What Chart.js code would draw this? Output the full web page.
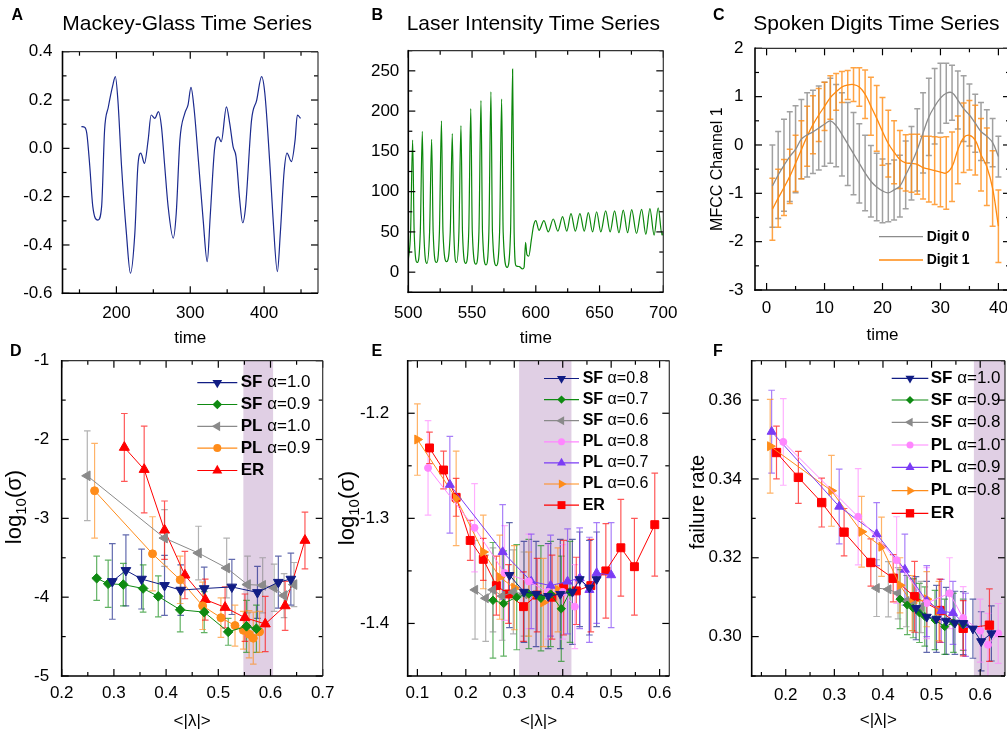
<!DOCTYPE html>
<html><head><meta charset="utf-8"><title>Reservoir panels</title>
<script src="https://cdn.jsdelivr.net/npm/chart.js@4.4.1/dist/chart.umd.min.js"></script>
<style>
html,body{margin:0;padding:0;background:#fff;}
body{width:1007px;height:734px;overflow:hidden;position:relative;font-family:"Liberation Sans",Arial,Helvetica,sans-serif;color:#000;}
canvas{position:absolute;left:0;top:0;}
.pl{position:absolute;font-weight:bold;font-size:16px;line-height:16px;white-space:nowrap;}
.tt{position:absolute;font-size:21px;line-height:21px;white-space:nowrap;}
</style></head><body>
<canvas id="cA" width="1030" height="734"></canvas>
<canvas id="cB" width="1030" height="734"></canvas>
<canvas id="cC" width="1030" height="734"></canvas>
<canvas id="cD" width="1030" height="734"></canvas>
<canvas id="cE" width="1030" height="734"></canvas>
<canvas id="cF" width="1030" height="734"></canvas>
<div class="pl" style="left:11.5px;top:7.2px">A</div>
<div class="pl" style="left:371.5px;top:7.2px">B</div>
<div class="pl" style="left:713px;top:7.2px">C</div>
<div class="pl" style="left:10px;top:343.2px">D</div>
<div class="pl" style="left:371.5px;top:343.2px">E</div>
<div class="pl" style="left:713px;top:343.2px">F</div>
<div class="tt" style="left:62.3px;top:11.5px">Mackey-Glass Time Series</div>
<div class="tt" style="left:406.7px;top:11.5px">Laser Intensity Time Series</div>
<div class="tt" style="left:753.3px;top:11.5px">Spoken Digits Time Series</div>
<script>
const FONT = '"Liberation Sans", Arial, Helvetica, sans-serif';
Chart.defaults.font.family = FONT;
Chart.defaults.font.size = 17;
Chart.defaults.color = '#000';
const CW = 1030, CH = 734;

// ---------------- Panel A: Mackey-Glass ----------------
const A_time = [152.6,157,160,164,168,175,180,184,189,195,198.6,202,207,213.5,219,225,229,233,238,243,247,252,257,261,265.5,270,277,281,286,292.6,297,301,305,311,317.5,323,327,333,338,342,349,353.6,358,362,367,371,375,383,390,396.6,401,408,412,418,422,427,431,437,442,445,449.4];
const A_val = [0.09,0.087,0.06,-0.076,-0.24,-0.297,-0.24,0.076,0.17,0.26,0.297,0.2,-0.076,-0.35,-0.517,-0.35,-0.076,-0.02,-0.062,0.035,0.138,0.124,0.152,0.09,-0.076,-0.24,-0.372,-0.27,0.035,0.145,0.18,0.252,0.17,-0.048,-0.297,-0.469,-0.283,0.0,0.048,0.028,0.172,0.1,0.007,-0.034,-0.214,-0.308,-0.24,0.117,0.2,0.297,0.228,-0.076,-0.283,-0.51,-0.35,-0.1,-0.02,-0.055,0.035,0.138,0.124];
const A_xTicks = [200,300,400];
const A_yTicks = [-0.6,-0.4,-0.2,0,0.2,0.4];

// ---------------- Panel B: Laser ----------------
const B_time = [500,501.8,503.4,504.6,507.0,509.4,511.0,512.2,514.6,516.7,518.3,519.5,522.0,524.4,526.0,527.2,530.0,532.9,534.5,535.7,537.8,539.7,541.3,542.5,545.0,547.4,549.0,550.2,553.0,555.4,557.0,558.2,561.0,563.2,564.8,566.0,569.0,571.6,573.2,574.4,577.5,580.2,581.8,583.0,584.5,587.0,589.5,590.8,592.0,593.0,594.5,596.5,598.3,600.0,602.5,606.4,609.8,613.7,617.3,621.0,624.3,627.6,631.0,634.6,638.0,641.2,644.5,647.7,651.0,654.8,658.3,661.8,665.2,668.6,672.0,675.2,679.0,683.0,686.3,689.5,692.8,696.0,699.0,700.0];
const B_val = [15,50,164,50,12,50,175,50,11,50,165,50,12,50,188,50,13,50,172,50,12,50,182,50,11,50,203,50,10,50,213,50,9,50,224,50,8,50,215,50,6,50,252,50,8,7,4,6,37,22,20,40,58,64,52,64,50,66,51,69,51,72.7,51,72.7,51,74,50,75,50,76,50,76,49,77,49,77.7,48,78,47,79,46,80,46,50];
const B_xTicks = [500,550,600,650,700];
const B_yTicks = [0,50,100,150,200,250];

// ---------------- Panel C: Spoken digits ----------------
const C_t = [1,2,3,4,5,6,7,8,9,10,11,12,13,14,15,16,17,18,19,20,21,22,23,24,25,26,27,28,29,30,31,32,33,34,35,36,37,38,39,40];
const C_d0 = [-0.85,-0.62,-0.42,-0.24,-0.09,0.12,0.21,0.27,0.35,0.43,0.5,0.4,0.22,0.02,-0.18,-0.38,-0.58,-0.75,-0.87,-0.95,-0.99,-0.93,-0.85,-0.62,-0.38,-0.1,0.25,0.58,0.8,0.97,1.07,1.08,0.93,0.75,0.62,0.45,0.28,0.18,0.05,-0.24];
const C_d0err = [0.85,0.9,0.95,0.93,0.9,0.82,0.87,0.86,0.87,0.87,0.88,0.85,0.86,0.86,0.85,0.82,0.78,0.74,0.7,0.66,0.6,0.62,0.64,0.7,0.76,0.85,0.83,0.8,0.78,0.72,0.62,0.57,0.6,0.68,0.64,0.6,0.6,0.55,0.5,0.42];
const C_d1 = [-1.33,-1.1,-0.88,-0.65,-0.38,-0.1,0.18,0.42,0.62,0.8,0.98,1.1,1.2,1.24,1.25,1.2,1.05,0.8,0.55,0.28,0.03,-0.15,-0.3,-0.37,-0.38,-0.4,-0.47,-0.5,-0.53,-0.56,-0.58,-0.45,-0.1,0.15,0.2,0.1,-0.2,-0.45,-0.9,-1.68];
const C_d1err = [0.64,0.6,0.58,0.56,0.58,0.6,0.62,0.6,0.55,0.5,0.45,0.38,0.32,0.3,0.35,0.4,0.5,0.6,0.68,0.7,0.69,0.65,0.6,0.58,0.6,0.62,0.65,0.68,0.7,0.72,0.75,0.72,0.7,0.72,0.72,0.72,0.75,0.8,0.78,0.75];
const C_xTicks = [0,10,20,30,40];
const C_yTicks = [-3,-2,-1,0,1,2];

// ---------------- Panel D ----------------
const D_SF10_x = [0.297,0.323,0.353,0.397,0.428,0.473,0.526,0.575,0.615,0.639];
const D_SF10_y = [-3.8,-3.66,-3.77,-3.85,-3.91,-3.89,-3.87,-3.94,-3.81,-3.77];
const D_SF10_e = [0.48,0.45,0.38,0.38,0.32,0.27,0.35,0.33,0.33,0.33];
const D_SF09_x = [0.267,0.289,0.318,0.356,0.385,0.427,0.473,0.519,0.554,0.573];
const D_SF09_y = [-3.76,-3.83,-3.84,-3.89,-3.99,-4.16,-4.19,-4.44,-4.37,-4.4];
const D_SF09_e = [0.28,0.3,0.27,0.3,0.26,0.28,0.26,0.17,0.33,0.3];
const D_PL10_x = [0.249,0.397,0.462,0.516,0.556,0.585,0.607,0.626,0.645];
const D_PL10_y = [-2.46,-3.25,-3.44,-3.63,-3.84,-3.85,-3.88,-3.98,-3.84];
const D_PL10_e = [0.57,0.36,0.34,0.38,0.36,0.35,0.3,0.28,0.28];
const D_PL09_x = [0.263,0.374,0.427,0.47,0.505,0.532,0.548,0.559,0.567,0.579];
const D_PL09_y = [-2.65,-3.45,-3.78,-4.11,-4.26,-4.36,-4.42,-4.47,-4.52,-4.44];
const D_PL09_e = [0.6,0.47,0.3,0.3,0.25,0.26,0.24,0.3,0.33,0.26];
const D_ER_x = [0.32,0.358,0.397,0.436,0.475,0.513,0.551,0.59,0.628,0.666];
const D_ER_y = [-2.1,-2.38,-3.15,-3.72,-4.03,-4.13,-4.26,-4.34,-4.11,-3.28];
const D_ER_e = [0.43,0.55,0.37,0.3,0.26,0.26,0.3,0.35,0.31,0.36];
const D_xTicks = [0.2,0.3,0.4,0.5,0.6,0.7];
const D_yTicks = [-5,-4,-3,-2,-1];

// ---------------- Panel E ----------------
const E_SF08_x = [0.29,0.32,0.345,0.37,0.395,0.42,0.435,0.455,0.47];
const E_SF08_y = [-1.354,-1.37,-1.372,-1.374,-1.372,-1.37,-1.358,-1.366,-1.358];
const E_SF08_e = [0.05,0.048,0.05,0.05,0.052,0.05,0.045,0.045,0.045];
const E_SF07_x = [0.256,0.278,0.305,0.33,0.355,0.375,0.397,0.415];
const E_SF07_y = [-1.378,-1.381,-1.375,-1.372,-1.376,-1.372,-1.386,-1.37];
const E_SF07_e = [0.055,0.05,0.05,0.052,0.05,0.05,0.05,0.048];
const E_SF06_x = [0.219,0.241,0.256,0.275,0.298,0.32];
const E_SF06_y = [-1.368,-1.376,-1.368,-1.374,-1.37,-1.372];
const E_SF06_e = [0.047,0.041,0.04,0.042,0.04,0.04];
const E_PL08_x = [0.122,0.218,0.28,0.33,0.37,0.4,0.425];
const E_PL08_y = [-1.252,-1.309,-1.352,-1.36,-1.37,-1.37,-1.384];
const E_PL08_e = [0.045,0.042,0.045,0.045,0.045,0.045,0.04];
const E_PL07_x = [0.167,0.276,0.335,0.375,0.41,0.435,0.455,0.47,0.5];
const E_PL07_y = [-1.268,-1.332,-1.36,-1.364,-1.36,-1.357,-1.368,-1.352,-1.354];
const E_PL07_e = [0.046,0.045,0.045,0.048,0.05,0.048,0.05,0.048,0.05];
const E_PL06_x = [0.1,0.18,0.236,0.27,0.3,0.33,0.36,0.39];
const E_PL06_y = [-1.225,-1.281,-1.332,-1.356,-1.366,-1.372,-1.38,-1.368];
const E_PL06_e = [0.034,0.045,0.035,0.04,0.04,0.04,0.042,0.04];
const E_ER_x = [0.125,0.154,0.18,0.209,0.236,0.263,0.288,0.319,0.347,0.378,0.402,0.428,0.458,0.489,0.52,0.548,0.59];
const E_ER_y = [-1.233,-1.254,-1.28,-1.321,-1.339,-1.364,-1.372,-1.384,-1.373,-1.375,-1.366,-1.369,-1.364,-1.35,-1.328,-1.346,-1.306];
const E_ER_e = [0.015,0.018,0.018,0.019,0.02,0.028,0.028,0.033,0.035,0.04,0.045,0.032,0.044,0.045,0.046,0.046,0.049];
const E_xTicks = [0.1,0.2,0.3,0.4,0.5,0.6];
const E_yTicks = [-1.4,-1.3,-1.2];

// ---------------- Panel F ----------------
const F_SF10_x = [0.468,0.49,0.51,0.53,0.548,0.565,0.585,0.602,0.623];
const F_SF10_y = [0.3072,0.305,0.3045,0.304,0.3035,0.3034,0.302,0.2988,0.3008];
const F_SF10_e = [0.008,0.009,0.0085,0.0085,0.008,0.008,0.0075,0.0075,0.007];
const F_SF09_x = [0.435,0.45,0.462,0.475,0.486,0.507,0.527,0.545,0.565];
const F_SF09_y = [0.3095,0.308,0.3072,0.306,0.3051,0.3042,0.3025,0.3035,0.303];
const F_SF09_e = [0.0075,0.0075,0.0075,0.0075,0.0075,0.0075,0.007,0.0075,0.0065];
const F_SF08_x = [0.387,0.411,0.431,0.448,0.462,0.478];
const F_SF08_y = [0.3123,0.312,0.311,0.309,0.308,0.3075];
const F_SF08_e = [0.0072,0.007,0.0065,0.0065,0.0065,0.0065];
const F_PL10_x = [0.195,0.349,0.428,0.49,0.537,0.565,0.6,0.616,0.637];
const F_PL10_y = [0.3494,0.3304,0.3194,0.3085,0.311,0.3047,0.3015,0.2979,0.3008];
const F_PL10_e = [0.011,0.0122,0.011,0.009,0.009,0.008,0.008,0.008,0.0076];
const F_PL09_x = [0.171,0.31,0.387,0.445,0.49,0.52,0.544,0.57];
const F_PL09_y = [0.352,0.333,0.326,0.317,0.309,0.3065,0.306,0.303];
const F_PL09_e = [0.0105,0.0095,0.008,0.009,0.009,0.008,0.008,0.008];
const F_PL08_x = [0.168,0.294,0.356,0.397,0.435,0.46,0.49,0.515];
const F_PL08_y = [0.3483,0.337,0.3266,0.3228,0.313,0.3085,0.3095,0.3065];
const F_PL08_e = [0.0119,0.009,0.009,0.0075,0.007,0.007,0.007,0.0075];
const F_ER_x = [0.181,0.226,0.274,0.32,0.375,0.421,0.465,0.517,0.565,0.619];
const F_ER_y = [0.3467,0.3404,0.334,0.3265,0.3188,0.3148,0.3101,0.3066,0.3021,0.3029];
const F_ER_e = [0.0067,0.0066,0.0062,0.006,0.006,0.006,0.009,0.008,0.007,0.0092];
const F_xTicks = [0.2,0.3,0.4,0.5,0.6];
const F_yTicks = [0.30,0.32,0.34,0.36];

// ---------------- styling helpers ----------------
const NAVY = '#111d84', GREEN = '#0f8a12', GRAY = '#8a8a8a', ORANGE = '#ff8c1a', RED = '#ff0000', PINK = '#ff86ff', PURPLE = '#7b3cf5';
function pts(xs, ys) { return xs.map((x, i) => ({ x: x, y: ys[i] })); }
function lineSet(label, xs, ys, color, extra) {
  return Object.assign({ label: label, data: pts(xs, ys), borderColor: color, backgroundColor: color,
    borderWidth: 1.3, pointRadius: 0, pointHoverRadius: 0, fill: false }, extra || {});
}
function markSet(label, xs, ys, es, color, style, rot, r) {
  return { label: label, data: pts(xs, ys), errs: es, errColor: color + 'a8',
    borderColor: color, backgroundColor: color, pointBackgroundColor: color, pointBorderColor: color,
    pointBorderWidth: 1, pointStyle: style, pointRotation: rot, pointRadius: r, pointHoverRadius: r,
    borderWidth: 1, tension: 0, fill: false };
}
function fmt(v, d) { const s = Number(v).toFixed(d); return /^-0(\.0+)?$/.test(s) ? s.slice(1) : s; }

function marker(ctx, style, rot, r, x, y) {
  ctx.save(); ctx.translate(x, y); ctx.rotate((rot || 0) * Math.PI / 180); ctx.beginPath();
  if (style === 'triangle') {
    for (let k = 0; k < 3; k++) { const a = k * 2 * Math.PI / 3; const px = Math.sin(a) * r, py = -Math.cos(a) * r; if (k) ctx.lineTo(px, py); else ctx.moveTo(px, py); }
    ctx.closePath();
  } else if (style === 'rectRot') {
    ctx.moveTo(0, -r); ctx.lineTo(r, 0); ctx.lineTo(0, r); ctx.lineTo(-r, 0); ctx.closePath();
  } else if (style === 'rect') {
    const s = r * Math.SQRT1_2; ctx.rect(-s, -s, 2 * s, 2 * s);
  } else { ctx.arc(0, 0, r, 0, 2 * Math.PI); }
  ctx.fill(); ctx.restore();
}

const LOG_SIGMA = [{ text: 'log', size: 22, dy: 0 }, { text: '10', size: 15, dy: 5 }, { text: '(σ)', size: 22, dy: 0 }];

// ---------------- panels ----------------
const PANELS = {
  cA: { area: { l: 62.5, r: 318, t: 51.7, b: 293.3 }, yW: 60, xH: 55.2,
    x: { min: 127, max: 473, ticks: A_xTicks, minor: 50, dec: 0, pad: 10, title: 'time', tfs: 17 },
    y: { min: -0.6, max: 0.4, ticks: A_yTicks, minor: 0.1, dec: 1, pad: 10 },
    datasets: [lineSet('Mackey-Glass', A_time, A_val, '#1b2a8e', { cubicInterpolationMode: 'monotone', borderWidth: 1.2 })] },
  cB: { area: { l: 408.3, r: 663.3, t: 50.7, b: 292.3 }, yW: 60, xH: 56.2,
    x: { min: 500, max: 700, ticks: B_xTicks, minor: 25, dec: 0, pad: 10.5, title: 'time', tfs: 17 },
    y: { min: -25, max: 275, ticks: B_yTicks, minor: 25, dec: 0, pad: 9 },
    datasets: [lineSet('Laser', B_time, B_val, '#0b870b', { cubicInterpolationMode: 'monotone', borderWidth: 1.2 })] },
  cC: { area: { l: 755, r: 1010, t: 48.3, b: 290 }, yW: 47.1, xH: 55.2,
    x: { min: -2, max: 42, ticks: C_xTicks, minor: 5, dec: 0, pad: 8, title: 'time', tfs: 17 },
    y: { min: -3, max: 2, ticks: C_yTicks, minor: 0.5, dec: 0, pad: 11.5, title: 'MFCC Channel 1', tfs: 16 },
    errWidth: 1.5, cap: 3,
    legend: { x0: 879, x1: 923, tx: 926.7, ys: [236.7, 260], size: 14, allBold: true, lw: 1.3 },
    datasets: [
      Object.assign(lineSet('Digit 0', C_t, C_d0, '#8c8c8c', { tension: 0.4 }), { errs: C_d0err, errColor: 'rgba(130,130,130,0.75)' }),
      Object.assign(lineSet('Digit 1', C_t, C_d1, '#ff8a10', { tension: 0.4 }), { errs: C_d1err, errColor: 'rgba(255,140,20,0.8)' })
    ] },
  cD: { area: { l: 61.7, r: 322.7, t: 360.7, b: 676 }, yW: 58.9, xH: 55.9,
    x: { min: 0.2, max: 0.7, ticks: D_xTicks, minor: 0.05, dec: 1, pad: 7.5, title: '<|λ|>', tfs: 17 },
    y: { min: -5, max: -1, ticks: D_yTicks, minor: 0.5, dec: 0, pad: 12.5 },
    ytitle: { cx: 14.5, cy: 507, base: 6, parts: LOG_SIGMA },
    shade: [0.548, 0.605], cap: 3.3, errWidth: 1.2,
    legend: { x0: 197.3, x1: 237.3, tx: 240.7, ys: [382.7, 404.5, 426.3, 448.1, 470.5], size: 17, lw: 1.2 },
    datasets: [
      markSet('SF α=1.0', D_SF10_x, D_SF10_y, D_SF10_e, NAVY, 'triangle', 180, 5.6),
      markSet('SF α=0.9', D_SF09_x, D_SF09_y, D_SF09_e, GREEN, 'rectRot', 0, 4.8),
      markSet('PL α=1.0', D_PL10_x, D_PL10_y, D_PL10_e, GRAY, 'triangle', -90, 5.6),
      markSet('PL α=0.9', D_PL09_x, D_PL09_y, D_PL09_e, ORANGE, 'circle', 0, 4),
      markSet('ER', D_ER_x, D_ER_y, D_ER_e, RED, 'triangle', 0, 5.8)
    ] },
  cE: { area: { l: 407.7, r: 669.3, t: 360.7, b: 676 }, yW: 71.6, xH: 55.9,
    x: { min: 0.08, max: 0.62, ticks: E_xTicks, minor: 0.05, dec: 1, pad: 7.1, title: '<|λ|>', tfs: 17 },
    y: { min: -1.45, max: -1.15, ticks: E_yTicks, minor: 0.05, dec: 1, pad: 18.5 },
    ytitle: { cx: 348, cy: 508, base: 6, parts: LOG_SIGMA },
    shade: [0.31, 0.418], cap: 3.3, errWidth: 1.2,
    legend: { x0: 544, x1: 579, tx: 582.7, ys: [378.5, 399.6, 420.7, 441.8, 462.9, 484, 505.1], size: 16, lw: 1.2 },
    datasets: [
      markSet('SF α=0.8', E_SF08_x, E_SF08_y, E_SF08_e, NAVY, 'triangle', 180, 5.2),
      markSet('SF α=0.7', E_SF07_x, E_SF07_y, E_SF07_e, GREEN, 'rectRot', 0, 4.2),
      markSet('SF α=0.6', E_SF06_x, E_SF06_y, E_SF06_e, GRAY, 'triangle', -90, 5.2),
      markSet('PL α=0.8', E_PL08_x, E_PL08_y, E_PL08_e, PINK, 'circle', 0, 3.5),
      markSet('PL α=0.7', E_PL07_x, E_PL07_y, E_PL07_e, PURPLE, 'triangle', 0, 5.2),
      markSet('PL α=0.6', E_PL06_x, E_PL06_y, E_PL06_e, ORANGE, 'triangle', 90, 5.2),
      markSet('ER', E_ER_x, E_ER_y, E_ER_e, RED, 'rect', 0, 5.6)
    ] },
  cF: { area: { l: 751.7, r: 1005, t: 360.7, b: 676 }, yW: 66.1, xH: 54.2,
    x: { min: 0.13, max: 0.651, ticks: F_xTicks, minor: 0.05, dec: 1, pad: 8.8, title: '<|λ|>', tfs: 17 },
    y: { min: 0.29, max: 0.37, ticks: F_yTicks, minor: 0.01, dec: 2, pad: 10 },
    ytitle: { cx: 697, cy: 502, base: 7, parts: [{ text: 'failure rate', size: 20, dy: 0 }] },
    shade: [0.587, 0.66], cap: 3.3, errWidth: 1.2,
    legend: { x0: 891.7, x1: 928.3, tx: 930.7, ys: [378.3, 400, 422.3, 445, 467.3, 490.7, 513.3], size: 17, lw: 1.2 },
    datasets: [
      markSet('SF α=1.0', F_SF10_x, F_SF10_y, F_SF10_e, NAVY, 'triangle', 180, 5.2),
      markSet('SF α=0.9', F_SF09_x, F_SF09_y, F_SF09_e, GREEN, 'rectRot', 0, 4),
      markSet('SF α=0.8', F_SF08_x, F_SF08_y, F_SF08_e, GRAY, 'triangle', -90, 5.2),
      markSet('PL α=1.0', F_PL10_x, F_PL10_y, F_PL10_e, PINK, 'circle', 0, 3.5),
      markSet('PL α=0.9', F_PL09_x, F_PL09_y, F_PL09_e, PURPLE, 'triangle', 0, 5.2),
      markSet('PL α=0.8', F_PL08_x, F_PL08_y, F_PL08_e, ORANGE, 'triangle', 90, 5.2),
      markSet('ER', F_ER_x, F_ER_y, F_ER_e, RED, 'rect', 0, 5.9)
    ] }
};

const framePlugin = {
  id: 'frame',
  beforeDatasetsDraw(chart) {
    const P = PANELS[chart.canvas.id]; if (!P) return;
    const ctx = chart.ctx, a = chart.chartArea, x = chart.scales.x, y = chart.scales.y;
    ctx.save();
    ctx.beginPath(); ctx.rect(a.left, a.top, a.right - a.left, a.bottom - a.top); ctx.clip();
    if (P.shade) {
      const x0 = x.getPixelForValue(P.shade[0]), x1 = x.getPixelForValue(P.shade[1]);
      ctx.fillStyle = '#e0cfe4';
      ctx.fillRect(x0, a.top, x1 - x0, a.bottom - a.top);
    }
    chart.data.datasets.forEach((ds) => {
      if (!ds.errs) return;
      ctx.strokeStyle = ds.errColor; ctx.lineWidth = P.errWidth || 1.2;
      const c = P.cap || 3;
      ds.data.forEach((p, j) => {
        const px = x.getPixelForValue(p.x);
        const y0 = y.getPixelForValue(p.y + ds.errs[j]), y1 = y.getPixelForValue(p.y - ds.errs[j]);
        ctx.beginPath();
        ctx.moveTo(px, y0); ctx.lineTo(px, y1);
        ctx.moveTo(px - c, y0); ctx.lineTo(px + c, y0);
        ctx.moveTo(px - c, y1); ctx.lineTo(px + c, y1);
        ctx.stroke();
      });
    });
    ctx.restore();
  },
  afterDatasetsDraw(chart) {
    const P = PANELS[chart.canvas.id]; if (!P) return;
    const ctx = chart.ctx, a = chart.chartArea, x = chart.scales.x, y = chart.scales.y;
    const L = a.left, R = a.right, T = a.top, B = a.bottom;
    ctx.save();
    ctx.strokeStyle = '#000'; ctx.lineWidth = 1.2;
    function seg(x0, y0, x1, y1) { ctx.beginPath(); ctx.moveTo(x0, y0); ctx.lineTo(x1, y1); ctx.stroke(); }
    function isMajor(list, v, step) { return list.some(t => Math.abs(t - v) < step * 1e-3); }
    let st = P.x.minor;
    for (let k = Math.ceil(x.min / st - 1e-6); k <= Math.floor(x.max / st + 1e-6); k++) {
      const v = k * st, px = x.getPixelForValue(v);
      const len = isMajor(P.x.ticks, v, st) ? 7 : 4;
      seg(px, B, px, B - len); seg(px, T, px, T + len);
    }
    st = P.y.minor;
    for (let k = Math.ceil(y.min / st - 1e-6); k <= Math.floor(y.max / st + 1e-6); k++) {
      const v = k * st, py = y.getPixelForValue(v);
      const len = isMajor(P.y.ticks, v, st) ? 7 : 4;
      seg(L, py, L + len, py); seg(R, py, R - len, py);
    }
    ctx.lineWidth = 1.2; ctx.strokeStyle = '#333';
    seg(L, T, R, T); seg(R, T, R, B);
    ctx.lineWidth = 1.6; ctx.strokeStyle = '#000';
    seg(L, T - 0.8, L, B + 0.8); seg(L - 0.8, B, R, B);
    // y-axis title with subscript (rotated)
    if (P.ytitle) {
      const t = P.ytitle;
      ctx.save(); ctx.translate(t.cx, t.cy); ctx.rotate(-Math.PI / 2);
      ctx.fillStyle = '#000'; ctx.textBaseline = 'alphabetic'; ctx.textAlign = 'left';
      let total = 0; const ws = [];
      t.parts.forEach(p => { ctx.font = p.size + 'px ' + FONT; const w = ctx.measureText(p.text).width; ws.push(w); total += w; });
      let xx = -total / 2;
      t.parts.forEach((p, i) => { ctx.font = p.size + 'px ' + FONT; ctx.fillText(p.text, xx, t.base + p.dy); xx += ws[i]; });
      ctx.restore();
    }
    if (P.legend) {
      const lg = P.legend;
      chart.data.datasets.forEach((ds, i) => {
        const yy = lg.ys[i]; if (yy === undefined) return;
        ctx.save();
        ctx.strokeStyle = ds.borderColor; ctx.lineWidth = lg.lw || 1.2;
        seg(lg.x0, yy, lg.x1, yy);
        if (ds.pointRadius > 0) { ctx.fillStyle = ds.backgroundColor; marker(ctx, ds.pointStyle, ds.pointRotation || 0, ds.pointRadius, (lg.x0 + lg.x1) / 2, yy); }
        ctx.fillStyle = '#000'; ctx.textBaseline = 'middle'; ctx.textAlign = 'left';
        let head = ds.label, tail = '';
        const sp = ds.label.indexOf(' ');
        if (!lg.allBold && sp > 0) { head = ds.label.slice(0, sp); tail = ds.label.slice(sp); }
        ctx.font = 'bold ' + lg.size + 'px ' + FONT;
        ctx.fillText(head, lg.tx, yy);
        if (tail) { const w = ctx.measureText(head).width; ctx.font = lg.size + 'px ' + FONT; ctx.fillText(tail, lg.tx + w, yy); }
        ctx.restore();
      });
    }
    ctx.restore();
  }
};

function build(id) {
  const P = PANELS[id];
  const xCfg = {
    type: 'linear', position: 'bottom', min: P.x.min, max: P.x.max,
    afterBuildTicks: s => { s.ticks = P.x.ticks.map(v => ({ value: v })); },
    ticks: { autoSkip: false, maxRotation: 0, minRotation: 0, padding: P.x.pad, color: '#000', font: { size: 17 },
      callback: v => fmt(v, P.x.dec) },
    grid: { display: false, drawTicks: false }, border: { display: false },
    title: { display: true, text: P.x.title, color: '#000', font: { size: P.x.tfs }, padding: 0 },
    afterFit: s => { s.height = P.xH; s.paddingLeft = 0; s.paddingRight = 0; }
  };
  const yCfg = {
    type: 'linear', position: 'left', min: P.y.min, max: P.y.max,
    afterBuildTicks: s => { s.ticks = P.y.ticks.map(v => ({ value: v })); },
    ticks: { autoSkip: false, padding: P.y.pad, color: '#000', font: { size: 17 },
      callback: v => fmt(v, P.y.dec) },
    grid: { display: false, drawTicks: false }, border: { display: false },
    title: P.y.title ? { display: true, text: P.y.title, color: '#000', font: { size: P.y.tfs }, padding: 0 } : { display: false },
    afterFit: s => { s.width = P.yW; s.paddingTop = 0; s.paddingBottom = 0; }
  };
  return new Chart(document.getElementById(id), {
    type: 'line',
    data: { datasets: P.datasets },
    options: {
      responsive: false, animation: false, events: [],
      layout: { autoPadding: false, padding: { left: P.area.l - P.yW, top: P.area.t, right: CW - P.area.r, bottom: CH - P.area.b - P.xH } },
      plugins: { legend: { display: false }, tooltip: { enabled: false } },
      scales: { x: xCfg, y: yCfg }
    },
    plugins: [framePlugin]
  });
}
['cA', 'cB', 'cC', 'cD', 'cE', 'cF'].forEach(build);
</script>
</body></html>
